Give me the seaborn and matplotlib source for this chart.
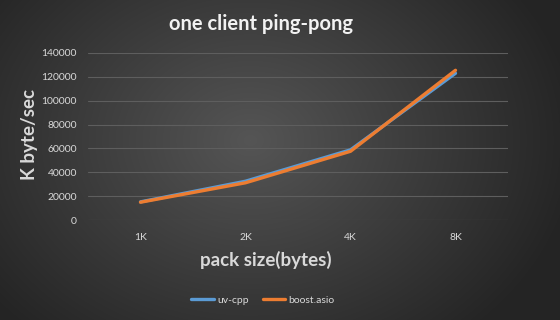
import numpy as np
import pandas as pd
import matplotlib
matplotlib.use("Agg")
import matplotlib.pyplot as plt
import seaborn as sns
from matplotlib.lines import Line2D

categories = ["1K", "2K", "4K", "8K"]
uv_cpp = [15200, 32500, 58800, 123000]
boost_asio = [14900, 31200, 57600, 125500]
series_names = ["uv-cpp", "boost.asio"]
y_ticks = [0, 20000, 40000, 60000, 80000, 100000, 120000, 140000]

sns.set_theme(style="dark")
plt.rcParams['font.family'] = ['Lato', 'DejaVu Sans']

df = pd.DataFrame({
    "pack": categories * 2,
    "value": uv_cpp + boost_asio,
    "series": [series_names[0]] * 4 + [series_names[1]] * 4,
})

fig = plt.figure(figsize=(5.6, 3.2), dpi=100)

# radial gradient background
bg = fig.add_axes([0, 0, 1, 1], zorder=-10)
h, w = 320, 560
yy, xx = np.mgrid[0:h, 0:w]
cx, cy = 250, 140
r = np.sqrt(((xx - cx) / 330.0) ** 2 + ((yy - cy) / 260.0) ** 2)
r = np.clip(r, 0, 1)
inner = np.array([0x55, 0x55, 0x55]) / 255
outer = np.array([0x24, 0x24, 0x24]) / 255
img = inner[None, None, :] * (1 - r[..., None]) + outer[None, None, :] * r[..., None]
bg.imshow(img, aspect="auto", extent=[0, 1, 0, 1])
bg.set_axis_off()

ax = fig.add_axes([88 / 560, 1 - 220 / 320, 420 / 560, 167 / 320])
ax.patch.set_alpha(0)

palette = {"uv-cpp": "#5B9BD5", "boost.asio": "#ED7D31"}
sns.lineplot(data=df, x="pack", y="value", hue="series", palette=palette,
             linewidth=2.4, ax=ax, sort=False, legend=False)

ax.set_xlim(-0.5, 3.5)
ax.set_ylim(0, 140000)
ax.set_yticks(y_ticks)
ax.set_yticklabels([str(t) for t in y_ticks])
ax.grid(axis="y", color="#5e5e5e", linewidth=0.8)
ax.grid(axis="x", visible=False)
for s in ax.spines.values():
    s.set_visible(False)
ax.tick_params(axis="both", colors="#d9d9d9", labelsize=7.5, length=0)
ax.tick_params(axis="x", pad=9)
ax.tick_params(axis="y", pad=8)

ax.set_xlabel("")
ax.set_ylabel("")
fig.text(266 / 560, 1 - 260 / 320, "pack size(bytes)", ha="center", va="center",
         color="#d9d9d9", fontsize=13.5, fontweight="bold")
fig.text(29 / 560, 1 - 135 / 320, "K byte/sec", ha="center", va="center", rotation=90,
         color="#d9d9d9", fontsize=13.5, fontweight="bold")

fig.text(261 / 560, 1 - 24 / 320, "one client ping-pong", ha="center", va="center",
         color="#f2f2f2", fontsize=14.5, fontweight="bold")

handles = [Line2D([0], [0], color=palette[n], linewidth=2.4) for n in series_names]
leg = fig.legend(handles, series_names, loc="center", bbox_to_anchor=(263 / 560, 1 - 300 / 320),
                 ncol=2, frameon=False, fontsize=7.5, handlelength=2.2, columnspacing=1.3,
                 handletextpad=0.3)
for t in leg.get_texts():
    t.set_color("#d9d9d9")

fig.savefig("out.png", dpi=100)
